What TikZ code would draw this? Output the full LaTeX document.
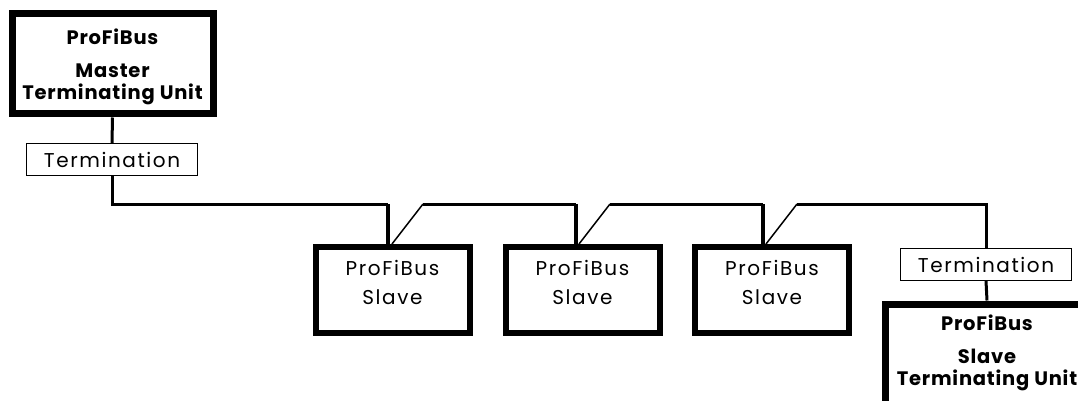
\documentclass[tikz,border=0pt]{standalone}
\usepackage{fontspec}
\setmainfont{Poppins}
\newcommand{\shiftedtext}[2]{\raisebox{#1}[0pt][0pt]{\begin{tabular}{@{}c@{}}#2\end{tabular}}}
\begin{document}
\begin{tikzpicture}[x=1pt,y=-1pt,
  unitbox/.style={draw=black,line width=7pt,rectangle,inner sep=0pt,align=center,
    minimum width=201pt,minimum height=100pt,
    font=\fontsize{19.5}{22.5}\selectfont\addfontfeature{LetterSpace=4}\bfseries},
  slavebox/.style={draw=black,line width=6pt,rectangle,inner sep=0pt,align=center,
    minimum width=154pt,minimum height=86pt,
    font=\fontsize{20}{29}\selectfont\addfontfeature{LetterSpace=8}},
  termbox/.style={draw=black,line width=1.2pt,rectangle,inner sep=0pt,
    minimum width=171pt,minimum height=32pt,
    font=\fontsize{20}{22}\selectfont\addfontfeature{LetterSpace=8}},
  bus/.style={line width=3pt,line join=miter},
  drop/.style={line width=4.5pt},
  sw/.style={line width=1.5pt}]
\useasboundingbox (0,0) rectangle (1078,401);
\clip (0,0) rectangle (1078,401);

\node[unitbox] (master) at (112.5,64) {\shiftedtext{-9pt}{ProFiBus\\[10pt]Master\\Terminating Unit}};
\node[termbox] (t1) at (112,159.5) {Termination};

\node[slavebox] (s1) at (392.5,290) {\shiftedtext{1pt}{ProFiBus\\Slave}};
\node[slavebox] (s2) at (582.5,290) {\shiftedtext{1pt}{ProFiBus\\Slave}};
\node[slavebox] (s3) at (772,290) {\shiftedtext{1pt}{ProFiBus\\Slave}};

\node[termbox] (t2) at (986,264.5) {Termination};
\node[unitbox,minimum width=204pt,minimum height=104pt,anchor=north] (slaveunit) at (987,300.5) {\shiftedtext{-3pt}{ProFiBus\\[10pt]Slave\\Terminating Unit}};

\coordinate (b1) at (388,204);
\coordinate (b2) at (423,204);
\coordinate (b3) at (576,204);
\coordinate (b4) at (610,204);
\coordinate (b5) at (763,204);
\coordinate (b6) at (797,204);

\draw[bus] (master.south) -- (t1.north);
\draw[bus] (t1.south) |- (b1);
\draw[drop] (b1) -- (s1.north -| b1);
\draw[sw] (s1.north -| 392,0) -- (b2);
\draw[bus] (b2) -- (b3);
\draw[drop] (b3) -- (s2.north -| b3);
\draw[sw] (s2.north -| 579,0) -- (b4);
\draw[bus] (b4) -- (b5);
\draw[drop] (b5) -- (s3.north -| b5);
\draw[sw] (s3.north -| 766,0) -- (b6);
\draw[bus] (b6) -| (t2.north);
\draw[bus] (t2.south) -- (slaveunit.north);
\end{tikzpicture}
\end{document}
